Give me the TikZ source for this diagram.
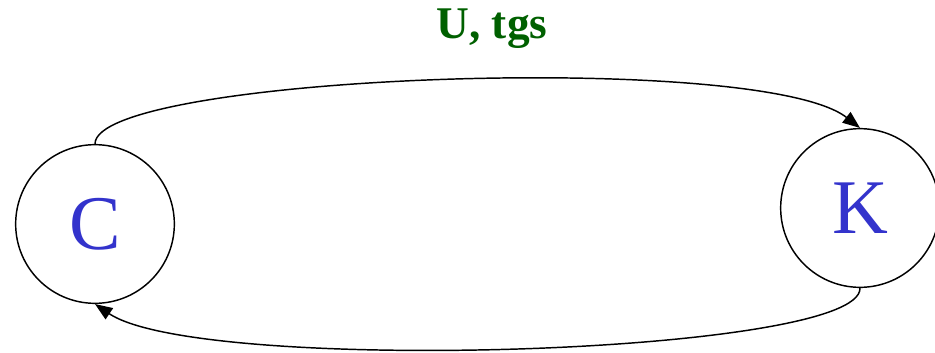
\documentclass[tikz,border=0pt]{standalone}
\usepackage{fontspec}
\setmainfont{Liberation Serif}
\usetikzlibrary{arrows.meta}
\definecolor{letterblue}{RGB}{51,51,204}
\definecolor{labelgreen}{RGB}{0,96,0}
\begin{document}
\begin{tikzpicture}[
    x=0.75pt, y=-0.75pt,
    state/.style={draw, circle, line width=1.1pt, minimum size=119pt, inner sep=0pt,
        font=\fontsize{58}{60}\selectfont, text=letterblue},
    arr/.style={-{Triangle[length=13pt, width=10pt]}, line width=1.1pt},
    lbl/.style={font=\bfseries\fontsize{34}{36}\selectfont, text=labelgreen}
]
    \useasboundingbox (0,0) rectangle (935,353);
    \node[state] (c) at (95,224) {C};
    \node[state] (k) at (860,208) {K};
    \node[lbl, anchor=base] (ut) at (492,39) {U, tgs};
    \draw[arr] (c.north) .. controls (95,75) and (760,50) .. (k.north);
    \draw[arr] (k.south) .. controls (862,355) and (200,375) .. (c.south);
\end{tikzpicture}
\end{document}
